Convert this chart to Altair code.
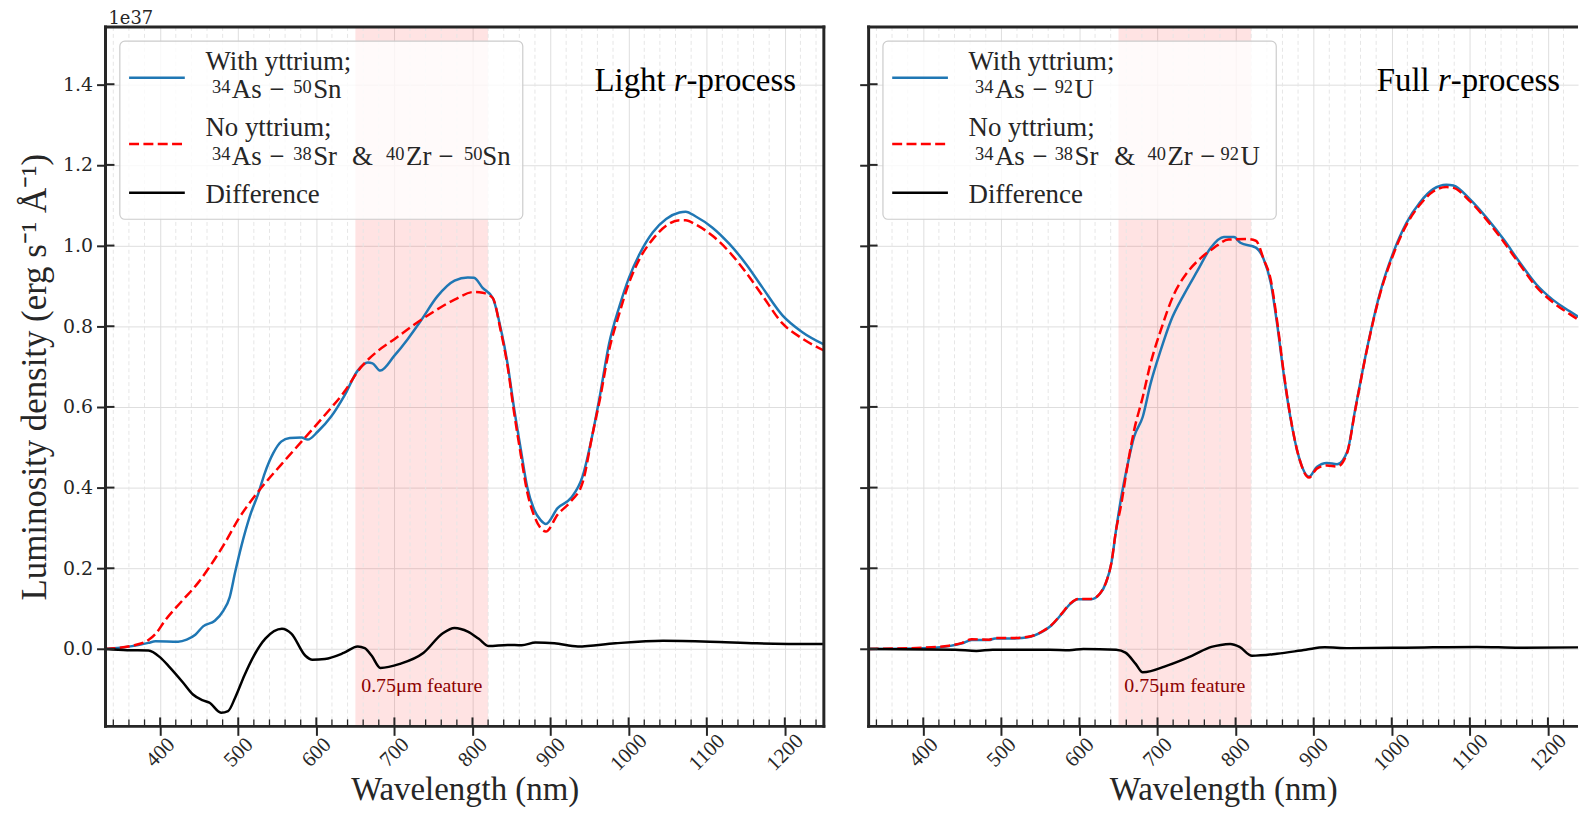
import altair as alt
import pandas as pd

# ---------------- data ----------------
# Light r-process panel
wl_L_with = [330, 364, 385, 394, 423, 434, 445, 455, 470, 481, 489, 496, 504, 515, 526, 534, 545, 555, 566, 581,
             589, 602, 619, 636, 653, 666, 672, 682, 700, 717, 734, 755, 777, 794, 802, 813, 826, 836, 845, 853,
             862, 870, 879, 887, 894, 909, 926, 941, 954, 963, 975, 988, 1000, 1014, 1031, 1048, 1065, 1073, 1086,
             1107, 1129, 1150, 1171, 1197, 1222, 1250]
lum_L_with = [0.0, 0.007, 0.015, 0.019, 0.018, 0.023, 0.035, 0.056, 0.07, 0.095, 0.128, 0.19, 0.255, 0.33, 0.387,
              0.436, 0.486, 0.514, 0.523, 0.524, 0.519, 0.539, 0.576, 0.628, 0.69, 0.71, 0.708, 0.69, 0.727, 0.768,
              0.814, 0.874, 0.913, 0.921, 0.92, 0.895, 0.87, 0.796, 0.706, 0.6, 0.493, 0.402, 0.345, 0.32, 0.31,
              0.349, 0.374, 0.428, 0.535, 0.626, 0.757, 0.848, 0.918, 0.979, 1.033, 1.066, 1.082, 1.084, 1.072,
              1.045, 1.004, 0.955, 0.897, 0.827, 0.786, 0.755]

wl_L_no = [330, 364, 385, 394, 406, 428, 449, 462, 483, 500, 526, 555, 581, 611, 636, 657, 679, 700, 726, 751,
           777, 802, 813, 826, 836, 845, 853, 862, 870, 879, 887, 894, 909, 926, 941, 954, 963, 975, 988, 1000,
           1014, 1031, 1048, 1065, 1073, 1086, 1107, 1129, 1150, 1171, 1197, 1222, 1250]
lum_L_no = [0.0, 0.008, 0.022, 0.037, 0.07, 0.119, 0.165, 0.2, 0.263, 0.321, 0.391, 0.457, 0.514, 0.58, 0.638,
            0.698, 0.739, 0.768, 0.805, 0.837, 0.866, 0.885, 0.883, 0.87, 0.79, 0.70, 0.59, 0.48, 0.39, 0.33,
            0.30, 0.291, 0.333, 0.366, 0.412, 0.535, 0.617, 0.741, 0.831, 0.905, 0.967, 1.016, 1.049, 1.063,
            1.063, 1.052, 1.025, 0.984, 0.934, 0.877, 0.807, 0.77, 0.74]

wl_L_diff = [330, 358, 385, 400, 412, 430, 442, 454, 463, 478, 487, 496, 508, 520, 535, 556, 568, 586, 595, 611,
             635, 653, 662, 671, 682, 707, 737, 762, 777, 794, 808, 821, 845, 863, 881, 905, 935, 983, 1044, 1104,
             1164, 1250]
lum_L_diff = [0.0, -0.003, -0.004, -0.021, -0.045, -0.085, -0.113, -0.127, -0.133, -0.158, -0.154, -0.121,
              -0.065, -0.017, 0.026, 0.05, 0.038, -0.017, -0.027, -0.025, -0.01, 0.006, 0.002, -0.017, -0.047,
              -0.037, -0.01, 0.039, 0.052, 0.043, 0.025, 0.007, 0.01, 0.009, 0.016, 0.014, 0.006, 0.014, 0.02,
              0.018, 0.014, 0.012]

# Full r-process panel
wl_F_with = [330, 399, 433, 450, 462, 484, 492, 513, 534, 551, 564, 577, 588, 598, 615, 626, 634, 641, 647, 653,
             662, 670, 681, 691, 704, 717, 734, 751, 768, 785, 798, 806, 826, 836, 845, 853, 862, 870, 881, 894,
             904, 917, 930, 943, 953, 968, 985, 1002, 1019, 1036, 1053, 1070, 1079, 1100, 1121, 1143, 1164, 1185,
             1206, 1228, 1250]
lum_F_with = [0.0, 0.002, 0.007, 0.014, 0.022, 0.022, 0.026, 0.026, 0.029, 0.041, 0.058, 0.086, 0.111, 0.123,
              0.123, 0.136, 0.164, 0.214, 0.296, 0.37, 0.46, 0.526, 0.575, 0.657, 0.74, 0.813, 0.879, 0.937,
              0.994, 1.021, 1.021, 1.007, 0.995, 0.966, 0.908, 0.808, 0.676, 0.576, 0.476, 0.427, 0.451, 0.461,
              0.458, 0.489, 0.592, 0.742, 0.883, 0.983, 1.057, 1.107, 1.14, 1.151, 1.149, 1.115, 1.07, 1.016,
              0.958, 0.904, 0.866, 0.837, 0.81]

wl_F_no = [330, 399, 433, 450, 462, 484, 492, 513, 534, 551, 564, 577, 588, 598, 615, 626, 634, 641, 647, 653,
           662, 670, 681, 691, 704, 721, 738, 756, 772, 791, 815, 826, 836, 845, 853, 862, 870, 881, 894, 904,
           917, 930, 943, 953, 968, 985, 1002, 1019, 1036, 1053, 1070, 1079, 1100, 1121, 1143, 1164, 1185, 1206,
           1228, 1250]
lum_F_no = [0.0, 0.003, 0.008, 0.015, 0.024, 0.023, 0.027, 0.027, 0.03, 0.042, 0.059, 0.087, 0.112, 0.124,
            0.124, 0.137, 0.165, 0.214, 0.296, 0.353, 0.46, 0.542, 0.624, 0.707, 0.789, 0.879, 0.933, 0.97,
            0.994, 1.015, 1.016, 1.012, 0.966, 0.915, 0.815, 0.68, 0.578, 0.476, 0.425, 0.447, 0.455, 0.452,
            0.487, 0.59, 0.74, 0.88, 0.978, 1.052, 1.101, 1.134, 1.145, 1.143, 1.11, 1.065, 1.01, 0.953, 0.898,
            0.86, 0.83, 0.803]

wl_F_diff = [330, 441, 468, 489, 562, 587, 605, 647, 659, 672, 681, 714, 744, 769, 781, 793, 805, 821, 853, 890,
             914, 945, 1017, 1109, 1164, 1250]
lum_F_diff = [0.0, -0.002, -0.005, -0.002, -0.002, -0.003, 0.0, -0.002, -0.009, -0.037, -0.058, -0.04, -0.017,
              0.005, 0.01, 0.012, 0.005, -0.017, -0.012, -0.002, 0.004, 0.002, 0.003, 0.005, 0.003, 0.004]

feature_band = [650, 820]
feature_label = "0.75μm feature"
major_x = [400, 500, 600, 700, 800, 900, 1000, 1100, 1200]
minor_x = [v for v in range(340, 1250, 20) if v % 100 != 0]
major_y = [0.0, 0.2, 0.4, 0.6, 0.8, 1.0, 1.2, 1.4]

# legend element ranges: (text, is_superscript, x offset in legend)
legend_L_with = [("34", True, 107), ("As", False, 127), ("−", False, 164.5), ("50", True, 188.7),
                 ("Sn", False, 208.7)]
legend_L_no = [("34", True, 107), ("As", False, 127), ("−", False, 164.5), ("38", True, 188.7),
               ("Sr", False, 208.7), ("&", False, 247.7), ("40", True, 282), ("Zr", False, 302),
               ("−", False, 334.5), ("50", True, 360.4), ("Sn", False, 378.7)]
legend_F_with = [("34", True, 107), ("As", False, 127), ("−", False, 164.5), ("92", True, 187),
                 ("U", False, 207)]
legend_F_no = [("34", True, 107), ("As", False, 127), ("−", False, 164.5), ("38", True, 187),
               ("Sr", False, 207), ("&", False, 247), ("40", True, 280.3), ("Zr", False, 300.3),
               ("−", False, 333), ("92", True, 353.7), ("U", False, 373.7)]

# ---------------- styling ----------------
W, H = 722, 703
PX_PER_NM = W / 920.0
W2 = 713                                   # right panel is cut by the page edge
X_DOMAIN = [330, 1250]
X_DOMAIN2 = [330, 330 + W2 / PX_PER_NM]
Y_DOMAIN = [-0.192, 1.542]
FRAME = "#262626"
SERIF = "Liberation Serif"
TICKFONT = "DejaVu Serif"
BLUE = "#1f77b4"
RED = "#ff0000"
LW = 2.5
DASH = [10, 4.4]

yscale = alt.Scale(domain=Y_DOMAIN, nice=False, zero=False)


def df(wl, v):
    return pd.DataFrame({"wl": wl, "v": v})


one = pd.DataFrame({"a": [0]})


def label(text, x, y, size, style="normal", align="left", baseline="alphabetic", color=FRAME, font=SERIF):
    return (alt.Chart(one)
            .mark_text(text=text, font=font, fontSize=size, fontStyle=style, color=color, align=align,
                       baseline=baseline)
            .encode(x=alt.value(x), y=alt.value(y)))


def frame_rule(x, x2, y, y2, cap="square"):
    enc = dict(x=alt.value(x), y=alt.value(y))
    if x2 is not None:
        enc["x2"] = alt.value(x2)
    if y2 is not None:
        enc["y2"] = alt.value(y2)
    return alt.Chart(one).mark_rule(color=FRAME, strokeWidth=3, strokeCap=cap).encode(**enc)


def panel(first, blue, red, diff, word, seg_with, seg_no, box_right, text_right, width, domain):
    xscale = alt.Scale(domain=domain, nice=False, zero=False)
    xaxis = alt.Axis(values=major_x, format="d", labelAngle=-45, labelAlign="center", labelBaseline="middle",
                     labelPadding=17, labelFont=SERIF, labelFontSize=21, title="Wavelength (nm)",
                     titleFont=SERIF, titleFontSize=33, titlePadding=0)
    if first:
        yaxis = alt.Axis(values=major_y, format=".1f", labelFont=TICKFONT, labelFontSize=19, labelPadding=4,
                         title="Luminosity density (erg s⁻¹ Å⁻¹)", titleFont=SERIF, titleFontSize=35,
                         titlePadding=10)
    else:
        yaxis = alt.Axis(values=major_y, labels=False, title=None)

    X = lambda f: alt.X(f, scale=xscale, axis=xaxis)
    Y = lambda f: alt.Y(f, scale=yscale, axis=yaxis)
    minors = [m for m in minor_x if m < domain[1]]

    layers = []
    # shaded feature band
    layers.append(alt.Chart(pd.DataFrame({"wl": [feature_band[0]], "wl2": [feature_band[1]]}))
                  .mark_rect(color="red", opacity=0.11)
                  .encode(x=X("wl:Q"), x2="wl2:Q"))
    # minor dashed grid
    layers.append(alt.Chart(pd.DataFrame({"wl": minors}))
                  .mark_rule(color="#e6e6e6", strokeWidth=1, strokeDash=[4, 3])
                  .encode(x=X("wl:Q"), y=alt.value(0), y2=alt.value(H)))
    # spectra
    layers.append(alt.Chart(df(*blue)).mark_line(color=BLUE, strokeWidth=LW, interpolate="monotone", clip=True)
                  .encode(x=X("wl:Q"), y=Y("v:Q")))
    layers.append(alt.Chart(df(*red)).mark_line(color=RED, strokeWidth=LW, strokeDash=DASH,
                                                interpolate="monotone", clip=True)
                  .encode(x=X("wl:Q"), y=Y("v:Q")))
    layers.append(alt.Chart(df(*diff)).mark_line(color="black", strokeWidth=LW, interpolate="monotone",
                                                 clip=True)
                  .encode(x=X("wl:Q"), y=Y("v:Q")))
    # inward ticks
    layers.append(alt.Chart(pd.DataFrame({"wl": major_x})).mark_rule(color=FRAME, strokeWidth=2)
                  .encode(x=X("wl:Q"), y=alt.value(H), y2=alt.value(H - 9)))
    layers.append(alt.Chart(pd.DataFrame({"wl": minors}))
                  .mark_rule(color=FRAME, strokeWidth=1.3)
                  .encode(x=X("wl:Q"), y=alt.value(H), y2=alt.value(H - 7)))
    layers.append(alt.Chart(pd.DataFrame({"v": major_y})).mark_rule(color=FRAME, strokeWidth=2)
                  .encode(y=Y("v:Q"), x=alt.value(0), x2=alt.value(9)))
    # feature annotation
    layers.append(alt.Chart(pd.DataFrame({"wl": [735], "v": [-0.0925], "t": [feature_label]}))
                  .mark_text(font=SERIF, fontSize=20, color="#8b0000", align="center", baseline="middle")
                  .encode(x=X("wl:Q"), y=Y("v:Q"), text="t:N"))
    # frame
    if first:
        layers.append(frame_rule(0, width, 0, None))
        layers.append(frame_rule(0, width, H, None))
        layers.append(frame_rule(width, None, 0, H))
    else:
        layers.append(frame_rule(-1.5, width, 0, None, cap="butt"))
        layers.append(frame_rule(-1.5, width, H, None, cap="butt"))
    layers.append(frame_rule(0, None, 0, H))
    # legend box
    layers.append(alt.Chart(one).mark_rect(fill="white", fillOpacity=0.8, stroke="#cccccc", strokeWidth=1.2,
                                           cornerRadius=5)
                  .encode(x=alt.value(14.4), x2=alt.value(box_right), y=alt.value(14.3), y2=alt.value(193.3)))
    layers.append(alt.Chart(one).mark_rule(color=BLUE, strokeWidth=LW)
                  .encode(x=alt.value(23.7), x2=alt.value(79.7), y=alt.value(51)))
    layers.append(alt.Chart(one).mark_rule(color=RED, strokeWidth=LW, strokeDash=DASH)
                  .encode(x=alt.value(23.7), x2=alt.value(79.7), y=alt.value(117.7)))
    layers.append(alt.Chart(one).mark_rule(color="black", strokeWidth=LW)
                  .encode(x=alt.value(23.7), x2=alt.value(79.7), y=alt.value(166.7)))
    layers.append(label("With yttrium;", 100.4, 43.3, 27))
    layers.append(label("No yttrium;", 100.4, 110, 27))
    layers.append(label("Difference", 100.4, 176.7, 27))
    for segs, base in ((seg_with, 71.6), (seg_no, 138.3)):
        for t, sup, sx in segs:
            if sup:
                layers.append(label(t, sx, base - 5, 18.5))
            else:
                layers.append(label(t, sx, base, 27))
    # panel title with italic r
    fs = 33
    layers.append(label("-process", text_right, 64, fs, align="right", color="black"))
    layers.append(label("r", text_right - 3.332 * fs, 64, fs, style="italic", align="right", color="black"))
    layers.append(label(word, text_right - 3.332 * fs - 0.389 * fs - 0.25 * fs, 64, fs, align="right",
                        color="black"))
    if first:
        layers.append(label("1e37", 3, -8, 18, baseline="middle", font=TICKFONT))
    return alt.layer(*layers).properties(width=width, height=H)


left = panel(True, (wl_L_with, lum_L_with), (wl_L_no, lum_L_no), (wl_L_diff, lum_L_diff), "Light",
             legend_L_with, legend_L_no, 419.4, 694, W, X_DOMAIN)
right = panel(False, (wl_F_with, lum_F_with), (wl_F_no, lum_F_no), (wl_F_diff, lum_F_diff), "Full",
              legend_F_with, legend_F_no, 409.7, 695, W2, X_DOMAIN2)

chart = (alt.hconcat(left, right, spacing=45, bounds="flush")
         .properties(padding={"left": 9, "top": 0, "right": 0, "bottom": 0})
         .configure_view(strokeWidth=0)
         .configure_axis(domain=False, grid=True, gridColor="#dedede", gridWidth=1, tickColor=FRAME,
                         tickWidth=2, tickSize=9, labelColor=FRAME, titleColor=FRAME, titleFontWeight="normal",
                         labelFlush=False, labelOverlap=False))

chart.save("out.html", embed_options={"renderer": "svg", "actions": False})
